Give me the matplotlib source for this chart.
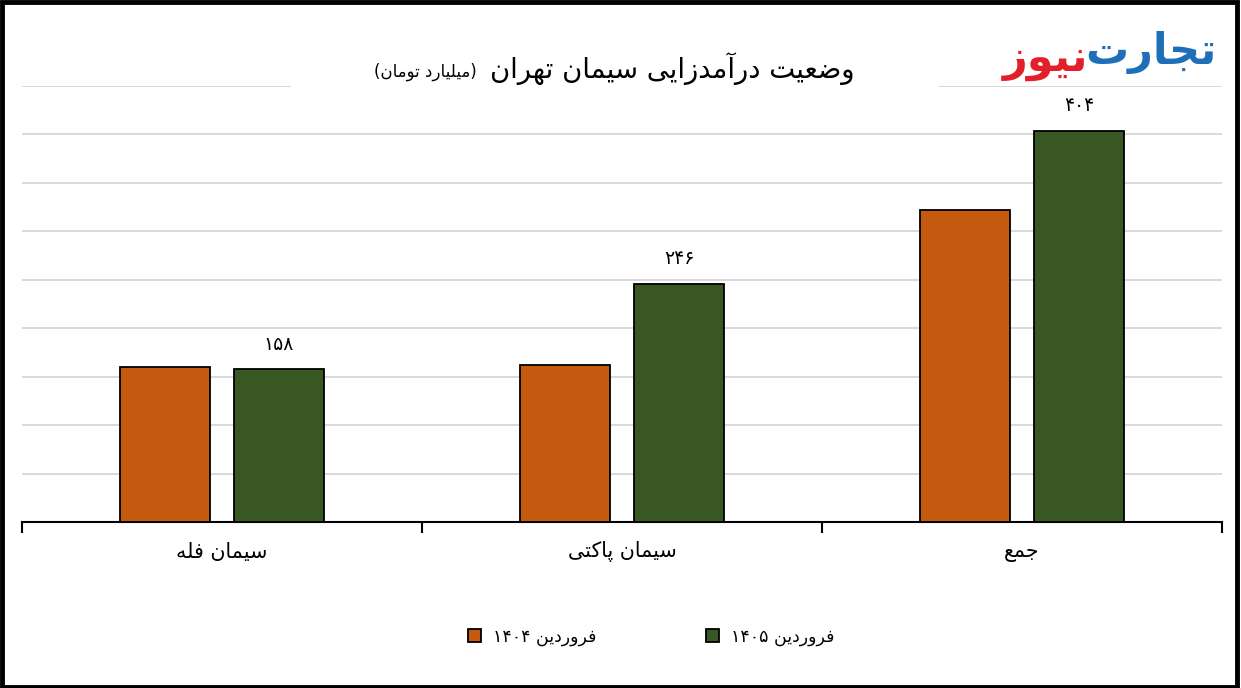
import numpy as np
import matplotlib
matplotlib.use("Agg")
import matplotlib.pyplot as plt
from matplotlib.patches import Rectangle

categories = ["سیمان فله", "سیمان پاکتی", "جمع"]
series_names = ["فروردین ۱۴۰۴", "فروردین ۱۴۰۵"]
vals_1404 = [160, 162, 322]
vals_1405 = [158, 246, 404]
labels_1405 = ["۱۵۸", "۲۴۶", "۴۰۴"]
title = "وضعیت درآمدزایی سیمان تهران"
unit = "(میلیارد تومان)"

# contextual forms: isolated, final, initial, medial
FORMS = {
    "ا": (0xFE8D, 0xFE8E, None, None),
    "آ": (0xFE81, 0xFE82, None, None),
    "ب": (0xFE8F, 0xFE90, 0xFE91, 0xFE92),
    "پ": (0xFB56, 0xFB57, 0xFB58, 0xFB59),
    "ت": (0xFE95, 0xFE96, 0xFE97, 0xFE98),
    "ج": (0xFE9D, 0xFE9E, 0xFE9F, 0xFEA0),
    "د": (0xFEA9, 0xFEAA, None, None),
    "ر": (0xFEAD, 0xFEAE, None, None),
    "ز": (0xFEAF, 0xFEB0, None, None),
    "س": (0xFEB1, 0xFEB2, 0xFEB3, 0xFEB4),
    "ض": (0xFEBD, 0xFEBE, 0xFEBF, 0xFEC0),
    "ع": (0xFEC9, 0xFECA, 0xFECB, 0xFECC),
    "ف": (0xFED1, 0xFED2, 0xFED3, 0xFED4),
    "ک": (0xFB8E, 0xFB8F, 0xFB90, 0xFB91),
    "ل": (0xFEDD, 0xFEDE, 0xFEDF, 0xFEE0),
    "م": (0xFEE1, 0xFEE2, 0xFEE3, 0xFEE4),
    "ن": (0xFEE5, 0xFEE6, 0xFEE7, 0xFEE8),
    "ه": (0xFEE9, 0xFEEA, 0xFEEB, 0xFEEC),
    "و": (0xFEED, 0xFEEE, None, None),
    "ی": (0xFBFC, 0xFBFD, 0xFBFE, 0xFBFF),
}


def isdigit(ch):
    return ch.isdigit() or "\u06f0" <= ch <= "\u06f9"


def shape(s):
    out = []
    n = len(s)
    for i, ch in enumerate(s):
        if ch not in FORMS:
            out.append(ch)
            continue
        f = FORMS[ch]
        prev = s[i - 1] if i > 0 else ""
        nxt = s[i + 1] if i < n - 1 else ""
        join_prev = prev in FORMS and FORMS[prev][2] is not None
        join_next = nxt in FORMS and f[2] is not None
        if join_prev and join_next:
            c = f[3]
        elif join_prev:
            c = f[1]
        elif join_next:
            c = f[2]
        else:
            c = f[0]
        out.append(chr(c))
    # visual order: reverse, keep digit runs left-to-right
    runs, cur, cur_dig = [], "", False
    for ch in out:
        d = isdigit(ch)
        if cur and d != cur_dig:
            runs.append(cur)
            cur = ""
        if not cur:
            cur_dig = d
        cur += ch
    if cur:
        runs.append(cur)
    res = ""
    for r in reversed(runs):
        res += r if isdigit(r[0]) else r[::-1]
    return res.translate(str.maketrans("()", ")("))


plt.rcParams["font.family"] = ["DejaVu Sans"]
c_1404 = "#C55A11"
c_1405 = "#385723"
grid_c = "#d9d9d9"

fig = plt.figure(figsize=(12.41, 6.88), dpi=100)
ax = fig.add_axes([22 / 1241, 1 - 522 / 688, 1200 / 1241, 436 / 688])

x = np.arange(len(categories))
w = 0.225
off = 0.1425
ax.bar(x - off, vals_1404, w, color=c_1404, edgecolor="black", linewidth=1.3,
       label=shape(series_names[0]), zorder=3)
b2 = ax.bar(x + off, vals_1405, w, color=c_1405, edgecolor="black", linewidth=1.3,
            label=shape(series_names[1]), zorder=3)
for rect, lab in zip(b2, labels_1405):
    ax.annotate(lab, (rect.get_x() + rect.get_width() / 2, rect.get_height()),
                xytext=(0, 11), textcoords="offset points", ha="center",
                va="bottom", fontsize=13.5)

ax.set_xlim(-0.5, len(categories) - 0.5)
ax.set_ylim(0, 450)
ax.set_yticks(np.arange(50, 450, 50))
ax.yaxis.grid(True, color=grid_c, linewidth=1.4, zorder=0)
ax.axhline(450, xmin=0, xmax=268 / 1200, color=grid_c, linewidth=1.4, zorder=0)
ax.axhline(450, xmin=918 / 1200, xmax=1, color=grid_c, linewidth=1.4, zorder=0)
ax.tick_params(axis="y", left=False, labelleft=False)
for s in ["top", "left", "right"]:
    ax.spines[s].set_visible(False)
ax.spines["bottom"].set_linewidth(1.5)

ax.set_xticks(np.arange(-0.5, len(categories), 1.0))
ax.set_xticklabels([])
ax.tick_params(axis="x", length=8, width=1.5, color="black")
for i, c in enumerate(categories):
    ax.text(i, -0.068, shape(c), transform=ax.get_xaxis_transform(),
            ha="center", va="center", fontsize=14.8)

fig.text(855 / 1241, 1 - 69 / 688, shape(title), ha="right", va="center", fontsize=19.8)
fig.text(477 / 1241, 1 - 72 / 688, shape(unit), ha="right", va="center", fontsize=12)

# logo
fig.text(1216 / 1241, 1 - 53 / 688, shape("تجارت"), ha="right", va="center",
         fontsize=31, fontweight="bold", color="#1f6fb8")
fig.text(1088 / 1241, 1 - 60 / 688, shape("نیوز"), ha="right", va="center",
         fontsize=31, fontweight="bold", color="#e3202a")

ax.legend(loc="center", bbox_to_anchor=(651 / 1241, 1 - 637 / 688),
          bbox_transform=fig.transFigure, ncol=2, frameon=False, fontsize=12.5,
          handlelength=0.75, handleheight=0.75, columnspacing=6.3,
          handletextpad=0.7)

fig.patches.append(Rectangle((0.0015, 0.002), 0.995, 0.995, transform=fig.transFigure,
                             fill=False, edgecolor="black", linewidth=3.5))

fig.savefig("out.png", dpi=100, facecolor="white")
